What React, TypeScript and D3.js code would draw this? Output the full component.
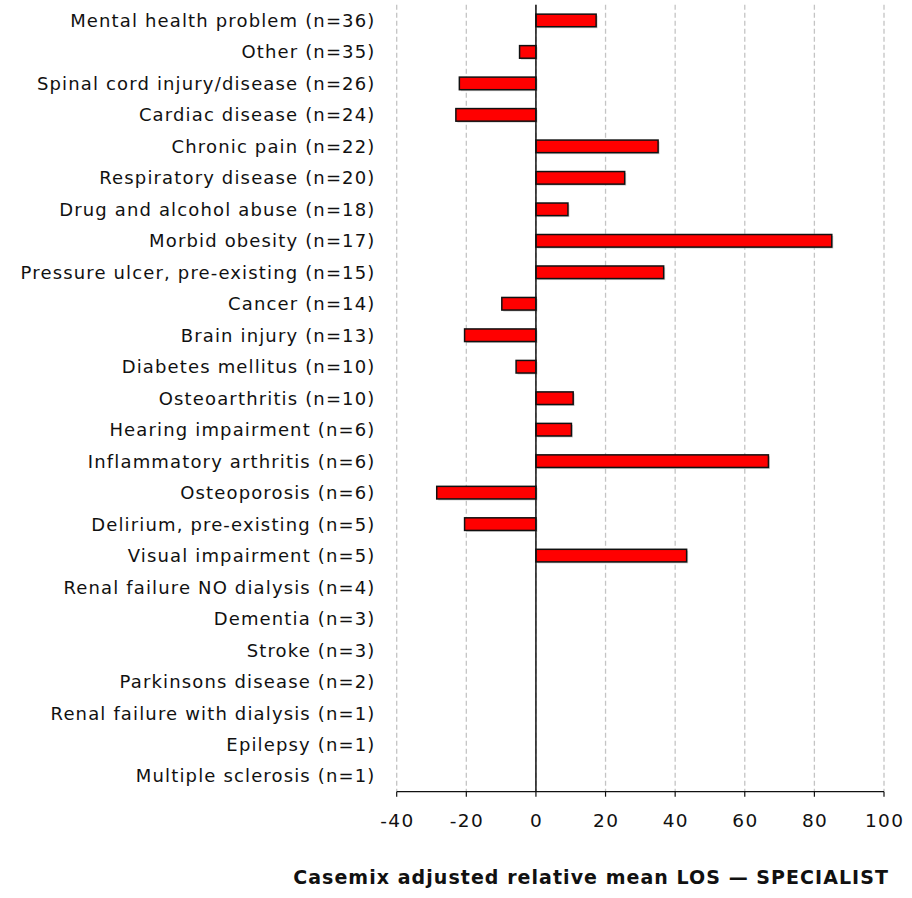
import React from "react";
import * as d3 from "d3";

const categories = [
  "Mental health problem (n=36)",
  "Other (n=35)",
  "Spinal cord injury/disease (n=26)",
  "Cardiac disease (n=24)",
  "Chronic pain (n=22)",
  "Respiratory disease (n=20)",
  "Drug and alcohol abuse (n=18)",
  "Morbid obesity (n=17)",
  "Pressure ulcer, pre-existing (n=15)",
  "Cancer (n=14)",
  "Brain injury (n=13)",
  "Diabetes mellitus (n=10)",
  "Osteoarthritis (n=10)",
  "Hearing impairment (n=6)",
  "Inflammatory arthritis (n=6)",
  "Osteoporosis (n=6)",
  "Delirium, pre-existing (n=5)",
  "Visual impairment (n=5)",
  "Renal failure NO dialysis (n=4)",
  "Dementia (n=3)",
  "Stroke (n=3)",
  "Parkinsons disease (n=2)",
  "Renal failure with dialysis (n=1)",
  "Epilepsy (n=1)",
  "Multiple sclerosis (n=1)",
];

const values: (number | null)[] = [
  17.3, -4.7, -22, -23, 35.1, 25.5, 9.2, 85, 36.7, -9.8, -20.5, -5.7, 10.7,
  10.2, 66.8, -28.5, -20.5, 43.3, null, null, null, null, null, null, null,
];

const xTicks = [-40, -20, 0, 20, 40, 60, 80, 100];
const xTitle = "Casemix adjusted relative mean LOS \u2014 SPECIALIST";

const W = 912;
const H = 898;
const FONT = "'DejaVu Sans', Verdana, sans-serif";

export default function App() {
  const x = d3.scaleLinear().domain([-40, 100]).range([396.7, 884]);
  const y = d3
    .scaleBand<string>()
    .domain(categories)
    .range([4.7, 791.7])
    .paddingInner(0.6)
    .paddingOuter(0.3);
  const axisY = 791.7;

  return (
    <svg
      width={W}
      height={H}
      style={{ position: "absolute", left: 0, top: 0, background: "#fff" }}
      fontFamily={FONT}
    >
      {xTicks.map((t) => (
        <line
          key={"g" + t}
          x1={x(t)}
          x2={x(t)}
          y1={4.7}
          y2={axisY}
          stroke="#c4c4c4"
          strokeWidth={1.3}
          strokeDasharray="5,3"
        />
      ))}
      {categories.map((c, i) => {
        const v = values[i];
        if (v === null || v === undefined) return null;
        const x0 = x(Math.min(0, v));
        const x1 = x(Math.max(0, v));
        const by = y(c)!;
        return (
          <g key={c}>
            <rect
              x={x0 + 1.5}
              y={by + 1.5}
              width={x1 - x0}
              height={y.bandwidth()}
              fill="#b0b0b0"
              opacity={0.6}
            />
            <rect
              x={x0}
              y={by}
              width={x1 - x0}
              height={y.bandwidth()}
              fill="#ff0000"
              stroke="#111"
              strokeWidth={1.5}
            />
          </g>
        );
      })}
      <line x1={x(0)} x2={x(0)} y1={4.7} y2={axisY} stroke="#111" strokeWidth={1.5} />
      <line x1={x(-40)} x2={x(100)} y1={axisY} y2={axisY} stroke="#111" strokeWidth={1.2} />
      {xTicks.map((t) => (
        <g key={"t" + t}>
          <line x1={x(t)} x2={x(t)} y1={axisY} y2={axisY + 5} stroke="#111" strokeWidth={1.2} />
          <text
            x={x(t) + 0.7}
            y={820}
            textAnchor="middle"
            dominantBaseline="central"
            fontSize={18.5}
            letterSpacing={1.4}
            fill="#111"
          >
            {t}
          </text>
        </g>
      ))}
      {categories.map((c) => (
        <text
          key={"l" + c}
          x={375.5}
          y={y(c)! + y.bandwidth() / 2}
          textAnchor="end"
          dominantBaseline="central"
          fontSize={18}
          letterSpacing={1.15}
          fill="#111"
        >
          {c}
        </text>
      ))}
      <text
        x={889}
        y={877}
        textAnchor="end"
        dominantBaseline="central"
        fontSize={19}
        fontWeight="bold"
        letterSpacing={1.05}
        fill="#111"
      >
        {xTitle}
      </text>
    </svg>
  );
}
